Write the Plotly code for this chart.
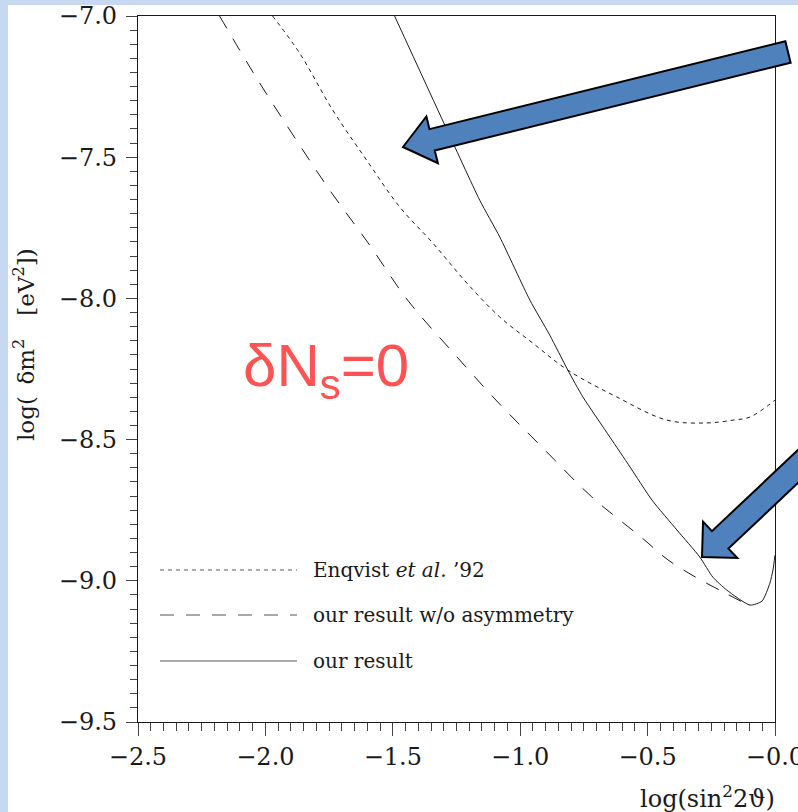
import plotly.graph_objects as go

# ---------------- data ----------------
enq_x = [-1.972, -1.866, -1.736, -1.603, -1.473, -1.343, -1.210, -1.080, -0.951,
         -0.813, -0.621, -0.424, -0.267, -0.165, -0.098, 0.000]
enq_y = [-7.000, -7.131, -7.333, -7.510, -7.676, -7.804, -7.945, -8.066, -8.158,
         -8.254, -8.349, -8.431, -8.441, -8.431, -8.420, -8.360]

noasym_x = [-2.180, -2.042, -1.897, -1.748, -1.591, -1.442, -1.265, -1.088, -0.903,
            -0.719, -0.522, -0.420, -0.306, -0.196, -0.105]
noasym_y = [-7.000, -7.209, -7.414, -7.616, -7.811, -8.006, -8.190, -8.367, -8.537,
            -8.703, -8.848, -8.926, -8.990, -9.043, -9.086]

ours_x = [-1.493, -1.296, -1.159, -1.080, -0.962, -0.884, -0.813, -0.754, -0.648,
          -0.569, -0.483, -0.385, -0.295, -0.244, -0.189, -0.098, -0.051, -0.020,
          -0.008, 0.000]
ours_y = [-7.000, -7.386, -7.652, -7.783, -8.006, -8.130, -8.254, -8.349, -8.491,
          -8.597, -8.714, -8.820, -8.916, -8.987, -9.033, -9.086, -9.072, -9.008,
          -8.962, -8.909]

x_tickvals = [-2.5, -2.0, -1.5, -1.0, -0.5, 0.0]
x_ticktext = ["\u22122.5", "\u22122.0", "\u22121.5", "\u22121.0", "\u22120.5", "\u22120.0"]
y_tickvals = [-7.0, -7.5, -8.0, -8.5, -9.0, -9.5]
y_ticktext = ["\u22127.0", "\u22127.5", "\u22128.0", "\u22128.5", "\u22129.0", "\u22129.5"]

legend_labels = ["Enqvist <i>et al.</i> \u201992",
                 "our result w/o asymmetry",
                 "our result"]

# ---------------- layout geometry ----------------
W, H = 798, 812
ML, MR, MT, MB = 138, 23, 16, 90
PW, PH = W - ML - MR, H - MT - MB
BOTTOM = H - MB


def px2paper(px, py):
    return (px - ML) / PW, (BOTTOM - py) / PH


def arrow_path(tip, tail, shaft_hw, head_hw, head_len):
    tx, ty = tip
    ex, ey = tail
    dx, dy = tx - ex, ty - ey
    L = (dx * dx + dy * dy) ** 0.5
    ux, uy = dx / L, dy / L
    nx, ny = -uy, ux
    bx, by = tx - head_len * ux, ty - head_len * uy
    pts = [
        (ex + shaft_hw * nx, ey + shaft_hw * ny),
        (bx + shaft_hw * nx, by + shaft_hw * ny),
        (bx + head_hw * nx, by + head_hw * ny),
        (tx, ty),
        (bx - head_hw * nx, by - head_hw * ny),
        (bx - shaft_hw * nx, by - shaft_hw * ny),
        (ex - shaft_hw * nx, ey - shaft_hw * ny),
    ]
    s = ""
    for i, (px, py) in enumerate(pts):
        X, Y = px2paper(px, py)
        s += ("M" if i == 0 else "L") + f"{X:.5f},{Y:.5f} "
    return s + "Z"


SERIF = "DejaVu Serif"
INK = "#1a1a1a"

fig = go.Figure()
fig.add_trace(go.Scatter(x=enq_x, y=enq_y, mode="lines", line_shape="spline",
                         line=dict(color=INK, width=1, dash="4px,4px"),
                         showlegend=False))
fig.add_trace(go.Scatter(x=noasym_x, y=noasym_y, mode="lines", line_shape="spline",
                         line=dict(color=INK, width=1, dash="14px,12px"),
                         showlegend=False))
fig.add_trace(go.Scatter(x=ours_x, y=ours_y, mode="lines", line_shape="spline",
                         line=dict(color=INK, width=1, smoothing=0.6),
                         showlegend=False))

shapes = []
# white page area on the light-blue background
x0, y0 = px2paper(8, H)
x1, y1 = px2paper(W, 5)
shapes.append(dict(type="rect", xref="paper", yref="paper", x0=x0, y0=y0, x1=x1, y1=y1,
                   fillcolor="white", line=dict(width=0), layer="below"))

# legend samples
leg_dash = ["4px,4px", "14px,12px", "solid"]
leg_py = [570, 615, 661]
annotations = []
for lab, dsh, py in zip(legend_labels, leg_dash, leg_py):
    a, b = px2paper(160, py)
    c, _ = px2paper(297, py)
    shapes.append(dict(type="line", xref="paper", yref="paper", x0=a, x1=c, y0=b, y1=b,
                       line=dict(color="#555555", width=1.2, dash=dsh)))
    tx, _ = px2paper(311, py)
    annotations.append(dict(xref="paper", yref="paper", x=tx, y=b, text=lab,
                            showarrow=False, xanchor="left", yanchor="middle",
                            font=dict(family=SERIF, size=20, color=INK)))

# blue block arrows
ARROW_FILL = "#4f81bd"
shapes.append(dict(type="path", xref="paper", yref="paper",
                   path=arrow_path((403, 147), (788, 52), 11, 24, 30),
                   fillcolor=ARROW_FILL, line=dict(color="black", width=2), layer="above"))
shapes.append(dict(type="path", xref="paper", yref="paper",
                   path=arrow_path((702, 557), (860, 408), 12, 25, 25),
                   fillcolor=ARROW_FILL, line=dict(color="black", width=2), layer="above"))

# red label
rx, ry = px2paper(241, 370)
annotations.append(dict(xref="paper", yref="paper", x=rx, y=ry,
                        text="\u03b4N<sub>s</sub>=0", showarrow=False,
                        xanchor="left", yanchor="middle",
                        font=dict(family="Liberation Sans, Arial", size=60, color="#ff5252")))

# axis titles
tx, ty = px2paper(24, 345)
annotations.append(dict(xref="paper", yref="paper", x=tx, y=ty,
                        text="log(\u2002\u03b4m<sup>2</sup>\u2002\u2002[eV<sup>2</sup>])",
                        showarrow=False, textangle=-90, xanchor="center", yanchor="middle",
                        font=dict(family=SERIF, size=23, color=INK)))
tx, ty = px2paper(777, 797)
annotations.append(dict(xref="paper", yref="paper", x=tx, y=ty,
                        text="log(sin<sup>2</sup>2\u03d1)", showarrow=False,
                        xanchor="right", yanchor="middle",
                        font=dict(family=SERIF, size=24, color=INK)))

fig.update_layout(
    width=W, height=H,
    margin=dict(l=ML, r=MR, t=MT, b=MB, autoexpand=False),
    paper_bgcolor="#c6d9f1",
    plot_bgcolor="white",
    shapes=shapes,
    annotations=annotations,
    showlegend=False,
)
fig.update_xaxes(range=[-2.5, 0.0], tickvals=x_tickvals, ticktext=x_ticktext,
                 showgrid=False, zeroline=False, showline=True, mirror=True,
                 linecolor=INK, linewidth=1.3, ticklabeloverflow="allow", automargin=False,
                 ticks="outside", ticklen=13, tickwidth=1, tickcolor="#444444",
                 tickfont=dict(family=SERIF, size=24, color=INK),
                 minor=dict(dtick=0.05, tick0=-2.5, ticks="outside", ticklen=8,
                            tickwidth=1, tickcolor="#444444", showgrid=False))
fig.update_yaxes(range=[-9.5, -7.0], tickvals=y_tickvals, ticktext=y_ticktext,
                 showgrid=False, zeroline=False, showline=True, mirror=True,
                 linecolor=INK, linewidth=1.3, ticklabeloverflow="allow", automargin=False,
                 ticks="outside", ticklen=11, tickwidth=1, tickcolor="#444444",
                 ticklabelstandoff=4,
                 tickfont=dict(family=SERIF, size=24, color=INK),
                 minor=dict(dtick=0.05, tick0=-9.5, ticks="outside", ticklen=7,
                            tickwidth=1, tickcolor="#444444", showgrid=False))

fig.write_html("out.html")
